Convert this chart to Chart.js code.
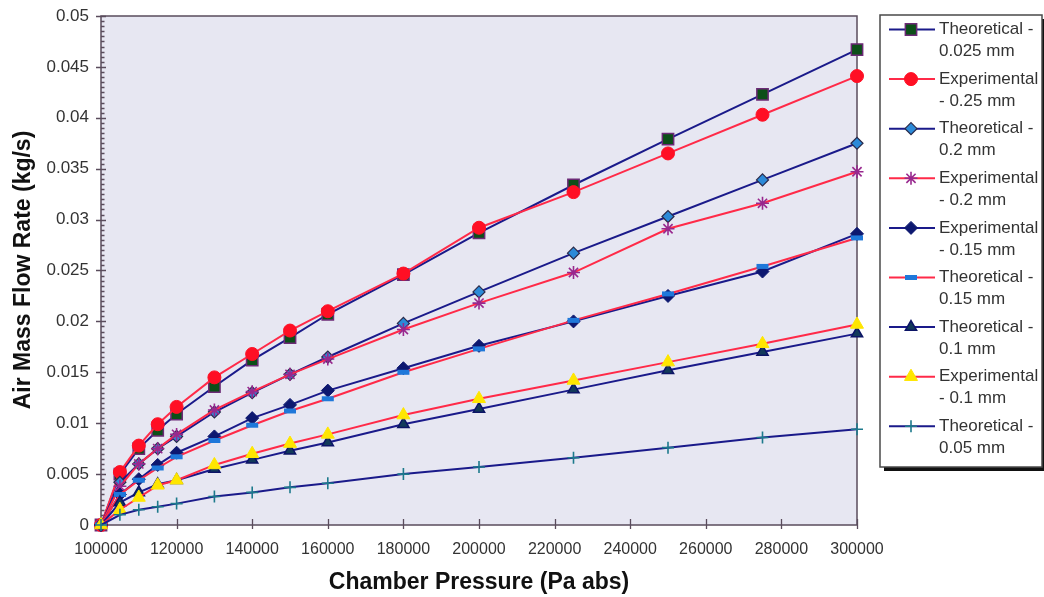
<!DOCTYPE html>
<html>
<head>
<meta charset="utf-8">
<title>Air Mass Flow Rate vs Chamber Pressure</title>
<script src="https://cdn.jsdelivr.net/npm/chart.js@4.4.0/dist/chart.umd.min.js"></script>
<style>
  html, body { margin: 0; padding: 0; background: #fff; }
  #wrap { position: relative; width: 1044px; height: 597px; }
</style>
</head>
<body>
<div id="wrap"><canvas id="flowChart" width="1044" height="597"></canvas></div>
<script>
// chamber pressure, Pa abs
var pressure = [100000, 105000, 110000, 115000, 120000, 130000, 140000, 150000, 160000, 180000, 200000, 225000, 250000, 275000, 300000];

// air mass flow rate, kg/s
var theo025 = [0, 0.0050, 0.0075, 0.0093, 0.0109, 0.0136, 0.0162, 0.0184, 0.0207, 0.0246, 0.0287, 0.0334, 0.0379, 0.0423, 0.0467];
var exp025  = [0, 0.0052, 0.0078, 0.0099, 0.0116, 0.0145, 0.0168, 0.0191, 0.0210, 0.0247, 0.0292, 0.0327, 0.0365, 0.0403, 0.0441];
var theo02  = [0, 0.0042, 0.0060, 0.0075, 0.0087, 0.0111, 0.0130, 0.0148, 0.0165, 0.0198, 0.0229, 0.0267, 0.0303, 0.0339, 0.0375];
var exp02   = [0, 0.0038, 0.0060, 0.0075, 0.0089, 0.0113, 0.0131, 0.0148, 0.0163, 0.0192, 0.0218, 0.0248, 0.0291, 0.0316, 0.0347];
var exp015  = [0, 0.0030, 0.0045, 0.0059, 0.0071, 0.0087, 0.0105, 0.0118, 0.0132, 0.0154, 0.0176, 0.0200, 0.0225, 0.0249, 0.0286];
var theo015 = [0, 0.0030, 0.0044, 0.0056, 0.0067, 0.0083, 0.0098, 0.0112, 0.0124, 0.0150, 0.0173, 0.0201, 0.0227, 0.0254, 0.0282];
var theo01  = [0, 0.0022, 0.0032, 0.0040, 0.0044, 0.0055, 0.0064, 0.0073, 0.0081, 0.0099, 0.0114, 0.0133, 0.0152, 0.0170, 0.0188];
var exp01   = [0, 0.0015, 0.0027, 0.0039, 0.0044, 0.0059, 0.0070, 0.0080, 0.0089, 0.0108, 0.0124, 0.0142, 0.0160, 0.0178, 0.0197];
var theo005 = [0, 0.0010, 0.0015, 0.0018, 0.0021, 0.0028, 0.0032, 0.0037, 0.0041, 0.0050, 0.0057, 0.0066, 0.0076, 0.0086, 0.0094];

var seriesNames = [
  'Theoretical - 0.025 mm', 'Experimental - 0.25 mm', 'Theoretical - 0.2 mm',
  'Experimental - 0.2 mm', 'Experimental - 0.15 mm', 'Theoretical - 0.15 mm',
  'Theoretical - 0.1 mm', 'Experimental - 0.1 mm', 'Theoretical - 0.05 mm'
];

var xTitle = 'Chamber Pressure (Pa abs)';
var yTitle = 'Air Mass Flow Rate (kg/s)';

var NAVY = '#1a1a8a';
var RED = '#ff2a48';
var FONT = '"Liberation Sans", Arial, Helvetica, sans-serif';

function pts(values) {
  return values.map(function(v, i) { return { x: pressure[i], y: v }; });
}

function series(idx, values, line, style, radius, fill, border, bw) {
  return {
    label: seriesNames[idx],
    data: pts(values),
    borderColor: line,
    backgroundColor: line,
    borderWidth: 2,
    tension: 0,
    clip: 12,
    order: -idx, // later series sit on top
    pointStyle: style,
    pointRadius: radius,
    pointHoverRadius: radius,
    pointBackgroundColor: fill,
    pointBorderColor: border,
    pointBorderWidth: bw
  };
}

var datasets = [
  series(0, theo025, NAVY, 'rect',     8,   '#0c4f18', '#6c2a76', 1.5),
  series(1, exp025,  RED,  'circle',   6.5, '#ff0f24', '#ff0f24', 1),
  series(2, theo02,  NAVY, 'rectRot',  6,   '#2c8ad8', '#2a2a4a', 1.2),
  series(3, exp02,   RED,  'star',     6.5, '#98288e', '#98288e', 1.6),
  series(4, exp015,  NAVY, 'rectRot',  6.5, '#0d1870', '#0d1870', 1),
  series(5, theo015, RED,  'line',     6,   '#1f78da', '#1f78da', 5),
  series(6, theo01,  NAVY, 'triangle', 6.5, '#123a5a', '#0c1466', 1.5),
  series(7, exp01,   RED,  'triangle', 7.5, '#ffe600', '#ffe600', 1),
  series(8, theo005, NAVY, 'cross',    6,   '#1d7a8c', '#1d7a8c', 1.6)
];

// shaded plot area, frame and tick marks
var plotFrame = {
  id: 'plotFrame',
  beforeDatasetsDraw: function(chart) {
    var ctx = chart.ctx, a = chart.chartArea;
    var xs = chart.scales.x, ys = chart.scales.y;
    ctx.save();
    ctx.fillStyle = '#e7e7f2';
    ctx.fillRect(a.left, a.top, a.right - a.left, a.bottom - a.top);
    ctx.strokeStyle = '#5a4c5c';
    ctx.lineWidth = 1.5;
    ctx.strokeRect(a.left, a.top, a.right - a.left, a.bottom - a.top);

    ctx.lineWidth = 1.3;
    ctx.beginPath();
    var v, p;
    for (v = 0; v <= 0.05 + 1e-9; v += 0.0005) {
      p = Math.round(ys.getPixelForValue(v)) + 0.5;
      var major = Math.abs(v / 0.005 - Math.round(v / 0.005)) < 1e-6;
      ctx.moveTo(a.left - (major ? 5 : 0), p);
      ctx.lineTo(a.left + (major ? 5 : 3.5), p);
    }
    for (v = 100000; v <= 300000; v += 20000) {
      p = Math.round(xs.getPixelForValue(v)) + 0.5;
      ctx.moveTo(p, a.bottom - 6);
      ctx.lineTo(p, a.bottom + 4);
    }
    ctx.stroke();
    ctx.restore();
  },
  afterDraw: function(chart) {
    var ctx = chart.ctx, a = chart.chartArea;
    ctx.save();
    ctx.fillStyle = '#111';
    ctx.font = 'bold 23px ' + FONT;
    ctx.textAlign = 'center';
    ctx.textBaseline = 'middle';
    ctx.fillText(xTitle, (a.left + a.right) / 2, 583);
    ctx.translate(24, 270);
    ctx.rotate(-Math.PI / 2);
    ctx.fillText(yTitle, 0, 0);
    ctx.restore();
  }
};

function wrapWords(ctx, text, maxWidth) {
  var words = text.split(' '), lines = [], cur = '';
  words.forEach(function(w) {
    var test = cur ? cur + ' ' + w : w;
    if (cur && ctx.measureText(test).width > maxWidth) {
      lines.push(cur);
      cur = w;
    } else {
      cur = test;
    }
  });
  if (cur) lines.push(cur);
  return lines;
}

// boxed legend at the right, two text lines per entry
var sideLegend = {
  id: 'sideLegend',
  afterDraw: function(chart) {
    var ctx = chart.ctx;
    var bx = 880, by = 15, bw = 162, bh = 452;
    ctx.save();
    ctx.fillStyle = '#111';
    ctx.fillRect(bx + 4, by + 4, bw, bh);
    ctx.fillStyle = '#fff';
    ctx.fillRect(bx, by, bw, bh);
    ctx.strokeStyle = '#4a4a4a';
    ctx.lineWidth = 1.5;
    ctx.strokeRect(bx, by, bw, bh);

    ctx.font = '17px ' + FONT;
    ctx.textBaseline = 'middle';
    ctx.textAlign = 'left';
    chart.data.datasets.forEach(function(ds, i) {
      var y = 29.5 + i * 49.6;
      ctx.strokeStyle = ds.borderColor;
      ctx.lineWidth = 2;
      ctx.beginPath();
      ctx.moveTo(889, y);
      ctx.lineTo(935, y);
      ctx.stroke();

      ctx.fillStyle = ds.pointBackgroundColor;
      ctx.strokeStyle = ds.pointBorderColor;
      ctx.lineWidth = ds.pointBorderWidth;
      Chart.helpers.drawPoint(ctx, {
        pointStyle: ds.pointStyle,
        radius: ds.pointRadius,
        rotation: 0,
        borderWidth: ds.pointBorderWidth
      }, 911, y);

      ctx.fillStyle = '#333';
      wrapWords(ctx, ds.label, 104).forEach(function(line, k) {
        ctx.fillText(line, 939, y + k * 22);
      });
    });
    ctx.restore();
  }
};

var ctx = document.getElementById('flowChart').getContext('2d');
var flowChart = new Chart(ctx, {
  type: 'line',
  data: { datasets: datasets },
  options: {
    responsive: false,
    animation: false,
    devicePixelRatio: 1,
    layout: { padding: { left: 0, right: 187, top: 16, bottom: 0 } },
    plugins: {
      legend: { display: false },
      tooltip: { enabled: false }
    },
    scales: {
      x: {
        type: 'linear',
        min: 100000,
        max: 300000,
        grid: { display: false, drawTicks: false },
        border: { display: false },
        ticks: {
          stepSize: 20000,
          padding: 15,
          maxRotation: 0,
          autoSkip: false,
          color: '#333',
          font: { size: 16, family: FONT },
          callback: function(v) { return String(v); }
        },
        afterFit: function(scale) { scale.height = 72; }
      },
      y: {
        min: 0,
        max: 0.05,
        grid: { display: false, drawTicks: false },
        border: { display: false },
        ticks: {
          stepSize: 0.005,
          padding: 12,
          color: '#333',
          font: { size: 17, family: FONT },
          callback: function(v) { return String(parseFloat(v.toFixed(4))); }
        },
        afterFit: function(scale) {
          scale.width = 101;
          // keep the plot top fixed by the layout padding alone
          scale.paddingTop = 0;
          scale.paddingBottom = 0;
        }
      }
    }
  },
  plugins: [plotFrame, sideLegend]
});
</script>
</body>
</html>
